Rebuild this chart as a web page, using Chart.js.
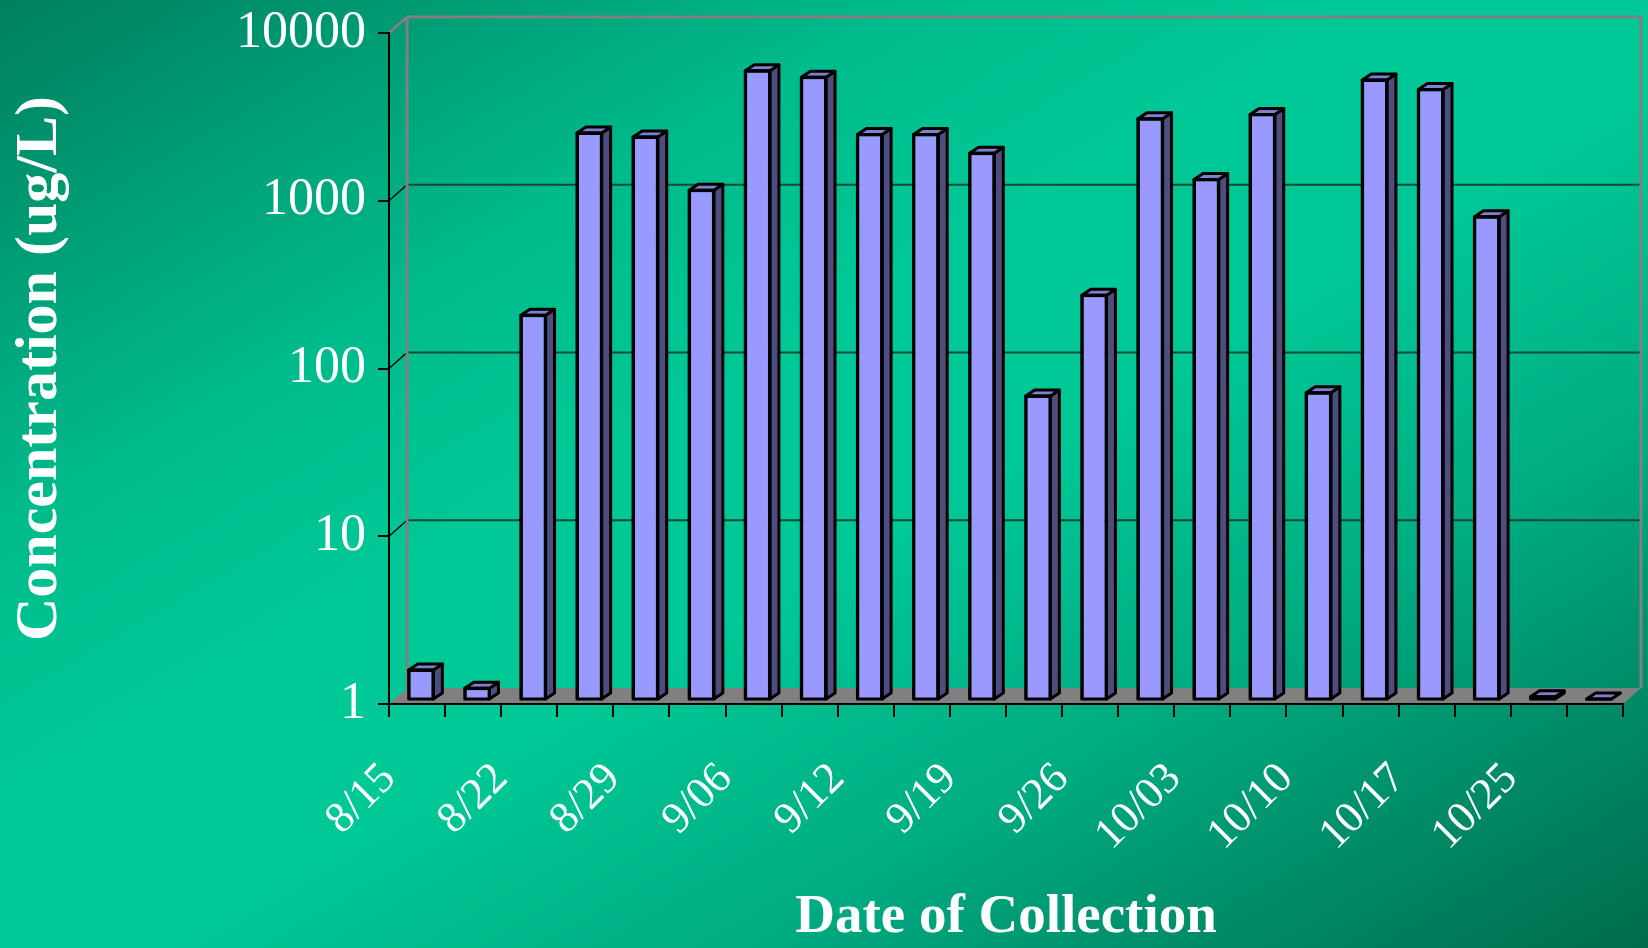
<!DOCTYPE html>
<html>
<head>
<meta charset="utf-8">
<script src="https://cdn.jsdelivr.net/npm/chart.js@4.4.0/dist/chart.umd.min.js"></script>
<style>
  html, body { margin: 0; padding: 0; }
  body {
    width: 1648px; height: 948px; overflow: hidden;
    background: linear-gradient(to bottom right, #007f5e 0%, #00bb8c 28%, #00c896 42%, #00c896 55%, #00ad83 72%, #006b4c 100%);
  }
  canvas { display: block; }
</style>
</head>
<body>
<canvas id="chart" width="1648" height="948"></canvas>
<script>
const categories = ['8/15', '', '8/22', '', '8/29', '', '9/06', '', '9/12', '', '9/19', '',
  '9/26', '', '10/03', '', '10/10', '', '10/17', '', '10/25', '']
const concentrations = [1.49, 1.16, 194, 2370, 2240, 1080, 5560, 5080, 2320, 2320, 1790, 64,
  255, 2880, 1250, 3050, 67, 4900, 4300, 750, 1.03, 1]
const yTicks = [1, 10, 100, 1000, 10000]

const serif = '"Liberation Serif", "Times New Roman", serif'

// offsets of the fake 3D box
const WALL_DX = 18, WALL_DY = -16
const BAR_DX = 4, BAR_DY = -5
const DEPTH_DX = 9, DEPTH_DY = -6

const wallPlugin = {
  id: 'wall',
  beforeDraw(chart) {
    const { ctx, chartArea: a, scales: { y } } = chart
    ctx.save()
    // back wall gridlines
    yTicks.slice(1, -1).forEach(v => {
      const py = y.getPixelForValue(v)
      ctx.strokeStyle = '#000'
      ctx.lineWidth = 1.5
      ctx.beginPath()
      ctx.moveTo(a.left, py)
      ctx.lineTo(a.left + WALL_DX, py + WALL_DY)
      ctx.stroke()
      ctx.strokeStyle = '#124a38'
      ctx.lineWidth = 2
      ctx.beginPath()
      ctx.moveTo(a.left + WALL_DX, py + WALL_DY)
      ctx.lineTo(a.right + WALL_DX, py + WALL_DY)
      ctx.stroke()
    })
    // wall edges
    ctx.strokeStyle = '#808080'
    ctx.lineWidth = 3
    ctx.beginPath()
    ctx.moveTo(a.left, a.top)
    ctx.lineTo(a.left + WALL_DX, a.top + WALL_DY)
    ctx.lineTo(a.right + WALL_DX, a.top + WALL_DY)
    ctx.lineTo(a.right + WALL_DX, a.bottom + WALL_DY)
    ctx.moveTo(a.left + WALL_DX, a.top + WALL_DY)
    ctx.lineTo(a.left + WALL_DX, a.bottom + WALL_DY)
    ctx.stroke()
    // floor
    ctx.fillStyle = '#808080'
    ctx.beginPath()
    ctx.moveTo(a.left, a.bottom)
    ctx.lineTo(a.right, a.bottom)
    ctx.lineTo(a.right + WALL_DX, a.bottom + WALL_DY)
    ctx.lineTo(a.left + WALL_DX, a.bottom + WALL_DY)
    ctx.closePath()
    ctx.fill()
    ctx.restore()
  }
}

const barDepthPlugin = {
  id: 'barDepth',
  beforeDatasetsDraw(chart) {
    chart.ctx.save()
    chart.ctx.translate(BAR_DX, BAR_DY)
  },
  afterDatasetsDraw(chart) {
    const ctx = chart.ctx
    ctx.lineWidth = 3
    ctx.lineJoin = 'round'
    ctx.strokeStyle = '#000'
    chart.getDatasetMeta(0).data.forEach(bar => {
      const { x, y, base, width } = bar.getProps(['x', 'y', 'base', 'width'], true)
      const l = x - width / 2, r = x + width / 2
      ctx.fillStyle = '#4d4d80'
      ctx.beginPath()
      ctx.moveTo(r, y)
      ctx.lineTo(r + DEPTH_DX, y + DEPTH_DY)
      ctx.lineTo(r + DEPTH_DX, base + DEPTH_DY)
      ctx.lineTo(r, base)
      ctx.closePath()
      ctx.fill()
      ctx.stroke()
      ctx.fillStyle = '#8080d0'
      ctx.beginPath()
      ctx.moveTo(l, y)
      ctx.lineTo(l + DEPTH_DX, y + DEPTH_DY)
      ctx.lineTo(r + DEPTH_DX, y + DEPTH_DY)
      ctx.lineTo(r, y)
      ctx.closePath()
      ctx.fill()
      ctx.stroke()
      ctx.strokeRect(l, y, width, base - y)
    })
    ctx.restore()
  }
}

new Chart(document.getElementById('chart'), {
  type: 'bar',
  data: {
    labels: categories,
    datasets: [{
      data: concentrations,
      backgroundColor: '#9999ff',
      borderColor: '#000',
      borderWidth: 2,
      barPercentage: 0.44,
      categoryPercentage: 1
    }]
  },
  options: {
    responsive: false,
    animation: false,
    devicePixelRatio: 1,
    layout: { padding: { top: 33, right: 25, bottom: 0, left: 0 } },
    plugins: {
      legend: { display: false },
      tooltip: { enabled: false }
    },
    scales: {
      x: {
        type: 'category',
        offset: true,
        grid: { offset: true, drawOnChartArea: false, drawTicks: true, tickLength: 13, color: '#000', lineWidth: 2 },
        border: { display: true, color: '#000', width: 2 },
        ticks: {
          autoSkip: false, maxRotation: 45, minRotation: 45, labelOffset: -28, padding: 36,
          color: '#fff', font: { family: serif, size: 44 }
        },
        title: {
          display: true, text: 'Date of Collection', color: '#fff',
          font: { family: serif, size: 55, weight: 'bold', lineHeight: 1.1 }, padding: { top: 0, bottom: 0 }
        },
        afterFit(s) {
          s.height = 244
          s.paddingLeft = 0
          s.paddingRight = 0
        }
      },
      y: {
        type: 'logarithmic',
        min: 1,
        max: 10000,
        afterBuildTicks(s) { s.ticks = yTicks.map(v => ({ value: v })) },
        grid: { drawOnChartArea: false, tickLength: 11, color: '#000', lineWidth: 2 },
        border: { display: true, color: '#000', width: 2 },
        ticks: {
          color: '#fff', padding: 12, font: { family: serif, size: 52 },
          callback: v => String(v)
        },
        title: {
          display: true, text: 'Concentration (ug/L)', color: '#fff',
          font: { family: serif, size: 60, weight: 'bold' }, padding: { top: 4, bottom: 0 }
        },
        afterFit(s) {
          s.width = 389
          s.paddingTop = 0
          s.paddingBottom = 0
        }
      }
    }
  },
  plugins: [wallPlugin, barDepthPlugin]
})
</script>
</body>
</html>
